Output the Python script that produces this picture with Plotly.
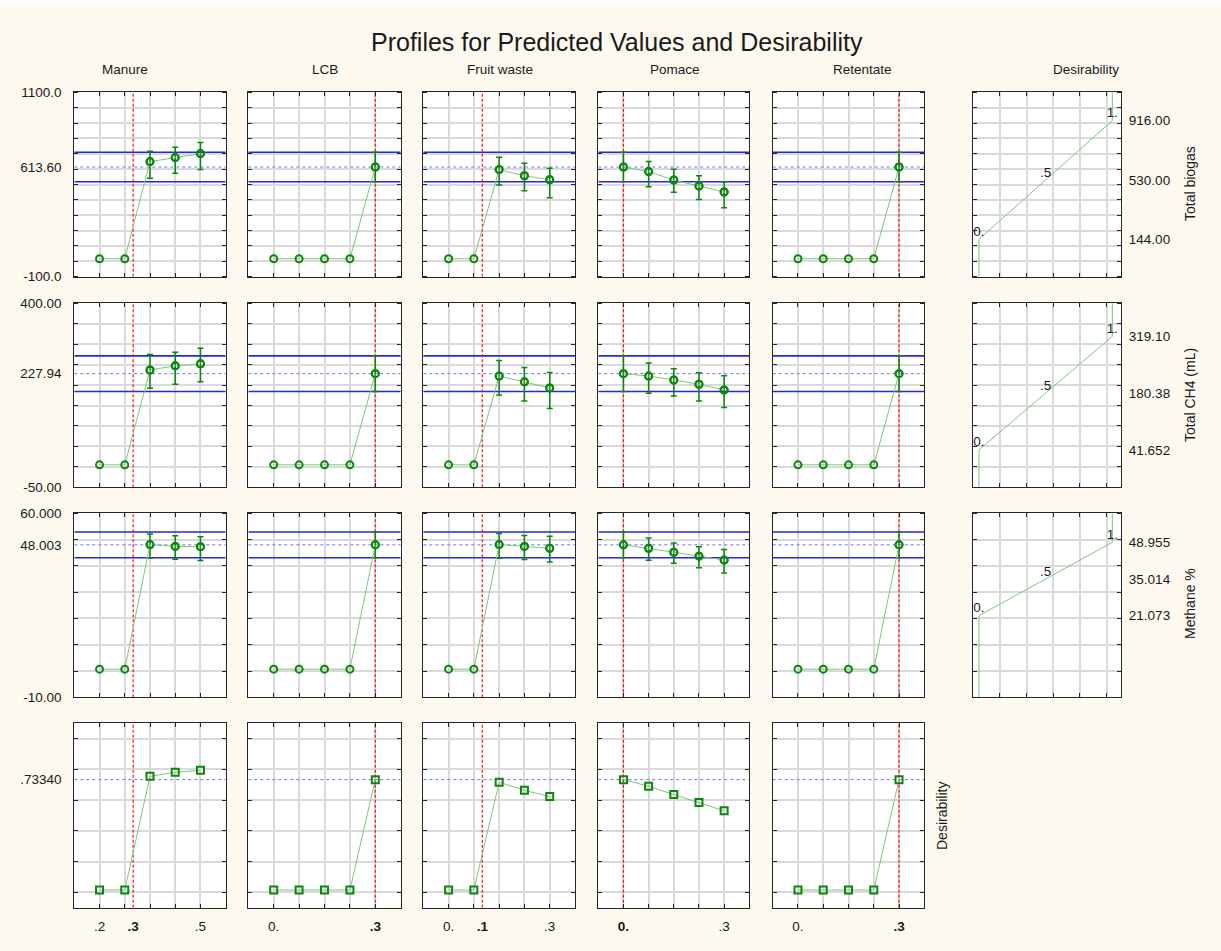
import numpy as np
import plotly.graph_objects as go

# ---------------- factors ----------------
factors = ["Manure", "LCB", "Fruit waste", "Pomace", "Retentate"]
manure_levels = [0.2, 0.275, 0.35, 0.425, 0.5]
share_levels = [0.0, 0.075, 0.15, 0.225, 0.3]
current_setting = [0.3, 0.3, 0.1, 0.0, 0.3]

# ---------------- responses ----------------
responses = ["Total biogas", "Total CH4 (mL)", "Methane %", "Desirability"]
current_pred = [613.60, 227.94, 48.003, 0.73340]
current_pred_text = ["613.60", "227.94", "48.003", ".73340"]
current_ci_low = [517.6, 184.4, 43.1]
current_ci_high = [709.6, 271.5, 52.9]

# predicted values per factor (Manure, LCB, Fruit waste, Pomace, Retentate)
biogas_pred = [
    [17, 17, 649, 675, 701],
    [17, 17, 17, 17, 613.60],
    [17, 17, 597, 557, 531],
    [613.60, 584, 529, 490, 451],
    [17, 17, 17, 17, 613.60],
]
biogas_upper = [
    [None, None, 716, 742, 774],
    [None, None, None, None, 709.6],
    [None, None, 677, 638, 605],
    [709.6, 649, 599, 557, 518],
    [None, None, None, None, 709.6],
]
biogas_lower = [
    [None, None, 540, 573, 597],
    [None, None, None, None, 517.6],
    [None, None, 497, 460, 414],
    [517.6, 486, 449, 403, 349],
    [None, None, None, None, 517.6],
]

ch4_pred = [
    [5, 5, 237, 247, 252],
    [5, 5, 5, 5, 227.94],
    [5, 5, 222, 208, 193],
    [227.94, 222, 212.5, 202, 188],
    [5, 5, 5, 5, 227.94],
]
ch4_upper = [
    [None, None, 275, 280, 290],
    [None, None, None, None, 271.5],
    [None, None, 260, 243, 231],
    [271.5, 254, 240, 230, 223],
    [None, None, None, None, 271.5],
]
ch4_lower = [
    [None, None, 192, 202, 208],
    [None, None, None, None, 184.4],
    [None, None, 176, 161, 143],
    [184.4, 180, 173, 161, 145],
    [None, None, None, None, 184.4],
]

methane_pred = [
    [0.7, 0.7, 48.1, 47.4, 47.3],
    [0.7, 0.7, 0.7, 0.7, 48.003],
    [0.7, 0.7, 48.1, 47.4, 46.7],
    [48.003, 46.7, 45.2, 43.7, 42.2],
    [0.7, 0.7, 0.7, 0.7, 48.003],
]
methane_upper = [
    [None, None, 52.1, 51.5, 51.1],
    [None, None, None, None, 52.9],
    [None, None, 52.3, 51.6, 51.3],
    [52.9, 50.6, 48.7, 47.3, 46.2],
    [None, None, None, None, 52.9],
]
methane_lower = [
    [None, None, 43.0, 42.5, 42.0],
    [None, None, None, None, 43.1],
    [None, None, 42.9, 42.4, 41.5],
    [43.1, 42.1, 41.0, 39.3, 37.3],
    [None, None, None, None, 43.1],
]

desir_pred = [
    [0.015, 0.015, 0.755, 0.781, 0.794],
    [0.015, 0.015, 0.015, 0.015, 0.7334],
    [0.015, 0.015, 0.716, 0.664, 0.623],
    [0.7334, 0.690, 0.636, 0.584, 0.531],
    [0.015, 0.015, 0.015, 0.015, 0.7334],
]

# desirability functions: response value at d = 0, .5 and 1
desir_low = [144.00, 41.652, 21.073]
desir_mid = [530.00, 180.38, 35.014]
desir_high = [916.00, 319.10, 48.955]
desir_low_text = ["144.00", "41.652", "21.073"]
desir_mid_text = ["530.00", "180.38", "35.014"]
desir_high_text = ["916.00", "319.10", "48.955"]
desir_point_labels = ["0.", ".5", "1."]

# axis scales
y_ranges = [(-100, 1100), (-50, 400), (-10, 60), (-0.1, 1.1)]
y_steps = [100, 50, 10, 0.2]
y_end_labels = [("-100.0", "1100.0"), ("-50.00", "400.00"), ("-10.00", "60.000"), None]

preds = [biogas_pred, ch4_pred, methane_pred, desir_pred]
uppers = [biogas_upper, ch4_upper, methane_upper, None]
lowers = [biogas_lower, ch4_lower, methane_lower, None]

# ---------------- page geometry (pixels) ----------------
W, H = 1221, 951
cols_px = [(74.3, 225.7), (248.3, 400.7), (423.3, 575.0),
           (598.3, 749.3), (772.7, 924.3), (972.7, 1121.0)]
rows_px = [(92.3, 276.7), (303.3, 487.3), (513.3, 697.3), (723.3, 907.7)]

FONT = "Liberation Sans, Arial, sans-serif"
BG = "#FEF9EE"
GRID = "#D9D9D9"
FRAME = "#262626"
MARK_GREEN = "#0B870B"
LINE_GREEN = "#7CC77C"
CI_BLUE = "#2626E6"
PRED_BLUE = "#6F6FFF"
CUR_RED = "#FF1010"
TXT = "#1A1A1A"


def dom_x(c):
    return [cols_px[c][0] / W, cols_px[c][1] / W]


def dom_y(r):
    return [1 - rows_px[r][1] / H, 1 - rows_px[r][0] / H]


def sid(k):
    return "" if k == 1 else str(k)


def stat_fmt(v):
    s = f"{v:g}"
    if s == "0":
        return "0."
    if s.startswith("0."):
        return s[1:]
    return s


def grid_vals(lo, hi, step):
    n0 = int(np.ceil(lo / step - 1e-9))
    n1 = int(np.floor(hi / step + 1e-9))
    return [round(i * step, 6) for i in range(n0, n1 + 1)]


def base_axis():
    return dict(showline=True, linecolor=FRAME, linewidth=1.3, mirror="allticks",
                showgrid=False, zeroline=False, ticks="", fixedrange=True,
                automargin=False,
                tickfont=dict(family=FONT, size=13.5, color=TXT))


def minor_grid(vals):
    return dict(tickmode="array", tickvals=vals, showgrid=True, gridcolor=GRID,
                gridwidth=1.5, ticks="inside", ticklen=4, tickcolor=FRAME, tickwidth=1)


def ref_line(xs, ys, x, y, color, width, dash="solid"):
    return go.Scatter(x=x, y=y, xaxis=xs, yaxis=ys, mode="lines", showlegend=False,
                      hoverinfo="skip", line=dict(color=color, width=width, dash=dash))


fig = go.Figure()
layout = {}
shapes = []
annotations = []

k = 0
for r in range(4):
    for c in range(5):
        k += 1
        xs, ys = f"x{sid(k)}", f"y{sid(k)}"
        levels = manure_levels if c == 0 else share_levels
        step = levels[1] - levels[0]
        xr = [levels[0] - step, levels[-1] + step]
        cur = current_setting[c]

        xa = base_axis()
        xa.update(domain=dom_x(c), anchor=ys, range=xr, minor=minor_grid(levels))
        if r == 3:
            lab_vals = sorted({levels[0], levels[-1], cur})
            lab_text = [f"<b>{stat_fmt(v)}</b>" if abs(v - cur) < 1e-9 else stat_fmt(v)
                        for v in lab_vals]
            xa.update(tickmode="array", tickvals=lab_vals, ticktext=lab_text,
                      showticklabels=True, ticklabelstandoff=6)
        else:
            xa.update(showticklabels=False)

        y0, y1 = y_ranges[r]
        ya = base_axis()
        ya.update(domain=dom_y(r), anchor=xs, range=[y0, y1],
                  minor=minor_grid(grid_vals(y0, y1, y_steps[r])))
        if c == 0:
            if y_end_labels[r] is not None:
                tv = [y0, current_pred[r], y1]
                tt = [y_end_labels[r][0], current_pred_text[r], y_end_labels[r][1]]
            else:
                tv = [current_pred[r]]
                tt = [current_pred_text[r]]
            ya.update(tickmode="array", tickvals=tv, ticktext=tt,
                      showticklabels=True, ticklabelstandoff=9)
        else:
            ya.update(showticklabels=False)

        layout[f"xaxis{sid(k)}"] = xa
        layout[f"yaxis{sid(k)}"] = ya

        # confidence band of the current prediction, the prediction itself
        # and the current factor setting
        if r < 3:
            for yv in (current_ci_low[r], current_ci_high[r]):
                fig.add_trace(ref_line(xs, ys, xr, [yv, yv], CI_BLUE, 1.6))
        fig.add_trace(ref_line(xs, ys, xr, [current_pred[r]] * 2, PRED_BLUE, 1, "dot"))
        fig.add_trace(ref_line(xs, ys, [cur, cur], [y0, y1], CUR_RED, 1.2, "3px,2px"))

        vals = preds[r][c]
        symbol = "square-open" if r == 3 else "circle-open"

        if uppers[r] is not None:
            up, lo = uppers[r][c], lowers[r][c]
            idx = [i for i in range(5) if up[i] is not None]
            fig.add_trace(go.Scatter(
                x=[levels[i] for i in idx], y=[vals[i] for i in idx],
                xaxis=xs, yaxis=ys, mode="markers", showlegend=False,
                hoverinfo="skip",
                marker=dict(symbol=symbol, size=7, color=MARK_GREEN,
                            line=dict(width=2, color=MARK_GREEN)),
                error_y=dict(type="data", symmetric=False,
                             array=[up[i] - vals[i] for i in idx],
                             arrayminus=[vals[i] - lo[i] for i in idx],
                             color=MARK_GREEN, thickness=1.5, width=3),
            ))

        fig.add_trace(go.Scatter(
            x=levels, y=vals, xaxis=xs, yaxis=ys, mode="lines+markers",
            showlegend=False,
            line=dict(color=LINE_GREEN, width=1),
            marker=dict(symbol=symbol, size=7, color=MARK_GREEN,
                        line=dict(width=2, color=MARK_GREEN)),
        ))

# desirability function panels
desir_xrange = [-0.047, 1.065]
desir_xgrid = [0.1575, 0.3575, 0.5575, 0.7575, 0.9575]
for r in range(3):
    k += 1
    xs, ys = f"x{sid(k)}", f"y{sid(k)}"
    y0, y1 = y_ranges[r]
    xa = base_axis()
    xa.update(domain=dom_x(5), anchor=ys, range=desir_xrange,
              minor=minor_grid(desir_xgrid), showticklabels=False)
    ya = base_axis()
    ya.update(domain=dom_y(r), anchor=xs, range=[y0, y1], side="right",
              minor=minor_grid(grid_vals(y0, y1, y_steps[r])),
              tickmode="array",
              tickvals=[desir_low[r], desir_mid[r], desir_high[r]],
              ticktext=[desir_low_text[r], desir_mid_text[r], desir_high_text[r]],
              showticklabels=True, ticklabelstandoff=4)
    layout[f"xaxis{sid(k)}"] = xa
    layout[f"yaxis{sid(k)}"] = ya

    fig.add_trace(go.Scatter(
        x=[0, 0, 1, 1], y=[y0, desir_low[r], desir_high[r], y1],
        xaxis=xs, yaxis=ys, mode="lines", showlegend=False,
        line=dict(color=LINE_GREEN, width=1),
    ))
    fig.add_trace(go.Scatter(
        x=[0, 0.5, 1], y=[desir_low[r], desir_mid[r], desir_high[r]],
        xaxis=xs, yaxis=ys, mode="text", showlegend=False,
        text=desir_point_labels, textposition="top center",
        textfont=dict(family=FONT, size=13.5, color=TXT),
    ))


def ann(text, x, y, size, angle=0, xanchor="center"):
    annotations.append(dict(text=text, x=x / W, y=1 - y / H, xref="paper", yref="paper",
                            showarrow=False, textangle=angle, xanchor=xanchor,
                            yanchor="middle",
                            font=dict(family=FONT, size=size, color=TXT)))


ann("Profiles for Predicted Values and Desirability", 617, 42, 25)
header_x = [125, 325, 500, 675, 862]
for name, hx in zip(factors, header_x):
    ann(name, hx, 70, 13.5)
ann("Desirability", 1086, 70, 13.5)

side_pos = [(1190, 184), (1190, 395), (1190, 604), (942, 816)]
for name, (sx, sy) in zip(responses, side_pos):
    ann(name, sx, sy, 14, angle=-90)

# thin white band along the top edge
shapes.append(dict(type="rect", xref="paper", yref="paper", x0=0, x1=1,
                   y0=1 - 5 / H, y1=1, fillcolor="white", line=dict(width=0),
                   layer="above"))

fig.update_layout(
    width=W, height=H,
    margin=dict(l=0, r=0, t=0, b=0, pad=0),
    paper_bgcolor=BG, plot_bgcolor="white",
    showlegend=False,
    font=dict(family=FONT, color=TXT),
    shapes=shapes, annotations=annotations,
    **layout,
)

fig.write_html("out.html")
